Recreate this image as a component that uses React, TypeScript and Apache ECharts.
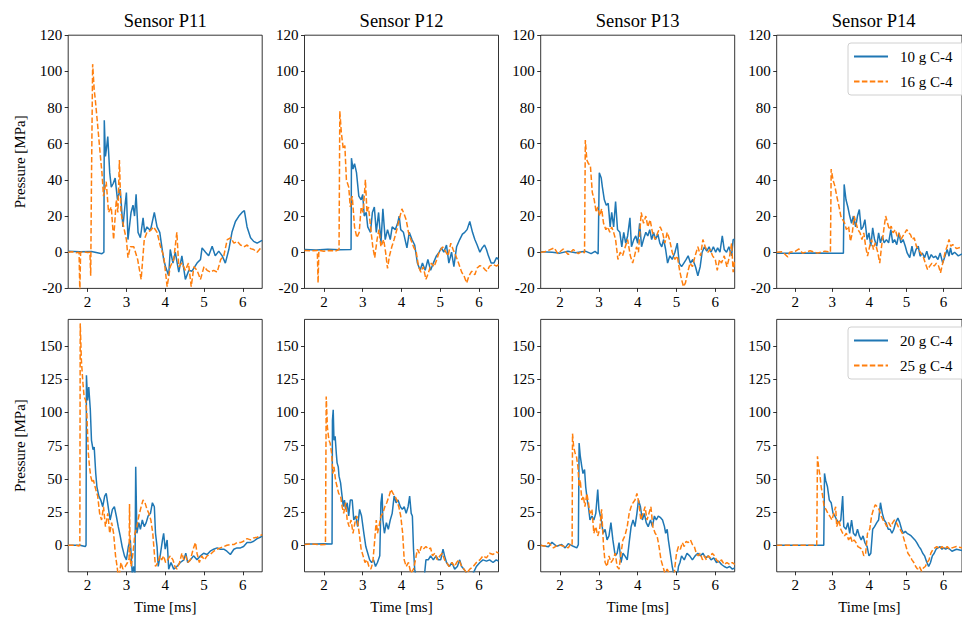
import React, { useEffect, useRef } from "react";
import * as echarts from "echarts";

const FONT = "Liberation Serif";
const BLUE = "#1f77b4";
const ORANGE = "#ff7f0e";

const sensors = ["Sensor P11", "Sensor P12", "Sensor P13", "Sensor P14"];
const topNames = ["10 g C-4", "16 g C-4"];
const bottomNames = ["20 g C-4", "25 g C-4"];
const xTicks = [2, 3, 4, 5, 6];
const topYTicks = [-20, 0, 20, 40, 60, 80, 100, 120];
const bottomYTicks = [0, 25, 50, 75, 100, 125, 150];

// ---- top row: 10 g (solid) and 16 g (dashed) ----
const p11_10 = [[1.5,0.5],[1.8,0.3],[2.1,0.4],[2.37,-0.8],[2.42,0],[2.43,73],[2.46,53],[2.49,58],[2.52,64],[2.57,44],[2.61,36],[2.66,38],[2.71,41],[2.77,29],[2.84,35],[2.91,14],[2.96,25],[3.0,33],[3.04,7],[3.12,22],[3.17,26],[3.21,20],[3.25,32],[3.3,11],[3.36,8],[3.43,19],[3.47,11],[3.53,14],[3.62,12],[3.72,22],[3.79,14],[3.86,11],[3.96,-4],[4.01,-8],[4.09,-13],[4.13,1.5],[4.2,-6],[4.26,0],[4.35,-11],[4.43,-2],[4.52,-15],[4.61,-10],[4.69,-10.5],[4.82,-6],[4.91,-4],[4.95,2.4],[5.04,0],[5.12,-2],[5.21,3.3],[5.29,-2],[5.38,0.6],[5.47,-2],[5.55,-6],[5.64,1.5],[5.72,11],[5.81,17],[5.9,20],[5.98,22],[6.04,23],[6.11,14],[6.2,8],[6.28,6],[6.37,5],[6.45,6],[6.5,6.6]];
const p11_16 = [[1.5,0],[1.6,0.3],[1.7,-0.3],[1.78,0],[1.8,-22],[1.82,0],[1.9,0.2],[2.0,-0.2],[2.06,0],[2.08,-13],[2.1,40],[2.13,104],[2.17,90],[2.2,84],[2.26,70],[2.33,53],[2.37,44],[2.41,31],[2.48,39],[2.54,22],[2.61,25],[2.67,7],[2.74,29],[2.78,22],[2.82,51],[2.86,22],[2.93,14],[3.0,7],[3.04,-3],[3.1,3],[3.19,3],[3.29,-4],[3.38,-15],[3.46,7],[3.53,11],[3.62,12],[3.7,14],[3.79,11],[3.88,3],[3.96,-2],[4.05,-19],[4.13,-8],[4.22,-4],[4.3,11],[4.35,-8],[4.43,-6],[4.52,-10],[4.6,-6],[4.67,-19],[4.74,-8],[4.82,-10],[4.91,-15],[5.0,-8],[5.08,-10],[5.17,-11],[5.25,-10],[5.34,-11],[5.43,-4],[5.51,-2],[5.6,7],[5.69,8],[5.77,5],[5.86,6],[5.94,4],[6.03,3],[6.11,4],[6.2,2],[6.28,1.5],[6.37,0],[6.45,2],[6.5,3]];
const p12_10 = [[1.5,1.5],[1.8,1.3],[2.1,1.6],[2.4,1.4],[2.7,1.5],[2.71,52],[2.75,46],[2.79,49],[2.84,44],[2.9,31],[2.96,29],[3.0,32],[3.04,20],[3.09,22],[3.13,14],[3.2,11],[3.25,22],[3.3,25],[3.35,11],[3.41,22],[3.47,5],[3.52,24],[3.58,7],[3.64,12.5],[3.71,7],[3.76,14],[3.84,12.5],[3.9,16],[3.94,20],[3.98,12.5],[4.05,11],[4.14,2.4],[4.2,11],[4.27,7],[4.34,4],[4.41,-6],[4.48,-10],[4.54,-6],[4.61,-10],[4.68,-4],[4.75,-10],[4.82,-6],[4.9,-2],[4.97,0],[5.03,2.4],[5.09,0],[5.16,4],[5.22,-6],[5.29,0],[5.35,-8],[5.42,3],[5.5,7],[5.57,10],[5.63,11],[5.69,12.5],[5.76,17],[5.83,11],[5.89,7],[5.95,4],[6.02,0],[6.08,2.4],[6.14,4],[6.19,1.5],[6.24,-2],[6.31,-6],[6.38,-6],[6.45,-3],[6.5,-4]];
const p12_16 = [[1.5,1],[1.7,0.8],[1.83,1],[1.85,-17],[1.87,1],[2.0,0.5],[2.15,1],[2.3,0.7],[2.39,1.5],[2.41,78],[2.45,66],[2.5,57],[2.54,59],[2.58,40],[2.64,36],[2.68,25],[2.73,31],[2.79,14],[2.85,8],[2.91,11],[2.96,25],[3.01,22],[3.07,40],[3.11,22],[3.15,25],[3.21,12.5],[3.26,3],[3.31,-3],[3.37,7],[3.42,12.5],[3.47,3],[3.54,7],[3.59,0],[3.64,-9],[3.69,-2],[3.75,3],[3.81,7],[3.88,12.5],[3.94,18],[4.01,24],[4.07,21],[4.12,18],[4.18,11],[4.24,7],[4.31,3],[4.38,0],[4.44,-8],[4.5,-11],[4.56,-8],[4.63,-15],[4.7,-11],[4.77,-6],[4.84,-8],[4.91,-4],[4.97,0],[5.06,3],[5.13,0.6],[5.2,-2],[5.27,5],[5.33,1.5],[5.4,-2],[5.47,-6],[5.55,-11],[5.61,-13],[5.68,-17],[5.74,-13],[5.81,-10.5],[5.89,-12.4],[5.95,-8.7],[6.02,-7.4],[6.09,-8],[6.15,-9.6],[6.2,-10.5],[6.27,-7.7],[6.36,-6.8],[6.45,-7.7],[6.5,-6.8]];
const p13_10 = [[1.5,0.3],[1.8,0],[2.0,-0.5],[2.2,0.5],[2.4,-0.3],[2.65,0.6],[2.8,-0.8],[2.9,0.5],[2.98,-1],[3.01,44],[3.06,41],[3.09,36],[3.14,29],[3.19,26],[3.24,27],[3.29,14],[3.33,22],[3.38,14],[3.43,28],[3.48,12.5],[3.54,11],[3.59,3],[3.64,11],[3.69,5],[3.74,9],[3.8,19],[3.84,3],[3.9,7],[3.95,9],[4.0,5],[4.05,16],[4.1,3],[4.15,7],[4.21,11],[4.26,9],[4.31,12.5],[4.36,7],[4.41,11],[4.46,7],[4.52,10],[4.57,5],[4.62,3],[4.67,7],[4.72,1.5],[4.77,-6],[4.83,-2],[4.89,-4],[4.96,0],[5.02,5],[5.07,-6],[5.13,-8],[5.19,-6],[5.25,-4],[5.3,-2],[5.36,-6],[5.42,-4],[5.49,-8],[5.55,-13],[5.61,-8],[5.66,0],[5.72,3],[5.78,0.6],[5.84,3],[5.89,0],[5.95,3],[6.01,0],[6.06,2.4],[6.12,0],[6.18,9],[6.23,1.5],[6.29,0],[6.35,3],[6.42,-2],[6.46,7],[6.5,7]];
const p13_16 = [[1.5,0],[1.6,0.2],[1.7,1],[1.85,2.4],[1.94,-0.8],[2.08,1.8],[2.21,-1.3],[2.34,1.5],[2.47,-0.8],[2.56,0.5],[2.63,-0.4],[2.65,62],[2.69,51],[2.73,49],[2.78,48],[2.83,33],[2.88,29],[2.93,22],[2.97,25],[3.02,20],[3.07,24],[3.12,16],[3.18,12.5],[3.23,14],[3.28,11],[3.33,14],[3.38,11],[3.43,7],[3.49,-4],[3.55,0],[3.61,-2],[3.68,3],[3.74,7],[3.81,-2],[3.87,-6],[3.92,-2],[3.97,3],[4.02,0],[4.09,22],[4.15,16],[4.21,20],[4.26,14],[4.32,18],[4.38,11],[4.45,7],[4.52,11],[4.58,14],[4.64,11],[4.7,5],[4.76,11],[4.82,7],[4.89,0],[4.96,-4],[5.02,-2],[5.08,-10],[5.13,-15],[5.18,-19],[5.23,-17],[5.29,-11],[5.35,-6],[5.41,-8],[5.48,-2],[5.55,3],[5.62,-2],[5.68,7],[5.74,3],[5.81,0],[5.87,1.5],[5.93,-2],[6.0,-4],[6.05,-10],[6.11,-4],[6.16,-6],[6.23,-2],[6.3,-8],[6.37,-2],[6.42,5],[6.46,-11],[6.5,-4]];
const p14_10 = [[1.5,-0.5],[2.0,-0.5],[2.5,-0.4],[3.0,-0.5],[3.3,-0.5],[3.32,37.5],[3.37,29],[3.42,25],[3.47,20],[3.52,16],[3.57,20],[3.63,14],[3.68,20],[3.73,23.6],[3.78,12.5],[3.83,14],[3.88,18],[3.94,7],[3.99,10.7],[4.04,3.3],[4.09,13.5],[4.14,7],[4.2,3.3],[4.25,10.7],[4.3,5.2],[4.35,8.8],[4.4,5.2],[4.46,7],[4.52,5.2],[4.58,12.5],[4.63,5.2],[4.68,7],[4.74,4.2],[4.8,10.7],[4.85,5.2],[4.91,7],[4.97,3.3],[5.02,-0.4],[5.09,-3],[5.15,3.3],[5.2,-2.2],[5.26,1.5],[5.32,3.3],[5.37,-2.2],[5.43,-0.4],[5.49,-3],[5.55,0.6],[5.61,-4],[5.67,-1.3],[5.73,-3],[5.79,-2.2],[5.85,-4],[5.91,-0.4],[5.98,-6],[6.04,-2.2],[6.1,1.5],[6.15,-2.2],[6.19,2.4],[6.23,-1.3],[6.3,0],[6.4,-2],[6.5,-1]];
const p14_16 = [[1.5,0],[1.65,0.3],[1.8,-2.6],[1.85,0],[2.0,0.5],[2.1,1.8],[2.2,-0.5],[2.4,0.8],[2.6,-0.5],[2.8,0.6],[2.95,0],[2.97,46],[3.02,40],[3.07,36.5],[3.12,31],[3.18,25.4],[3.23,20],[3.28,18],[3.33,16.2],[3.38,12.5],[3.44,14.4],[3.49,6],[3.54,10.7],[3.59,20],[3.64,16.2],[3.69,12.5],[3.75,10.7],[3.8,7],[3.85,10.7],[3.9,3.3],[3.95,-2.2],[4.01,3.3],[4.06,7],[4.11,1.5],[4.16,5.2],[4.23,-0.4],[4.28,-6],[4.33,3.3],[4.39,12.5],[4.44,20],[4.49,16.2],[4.54,12.5],[4.59,14.4],[4.64,10.7],[4.7,12.5],[4.75,8.8],[4.8,10.7],[4.85,7],[4.9,8.8],[4.96,10.7],[5.01,12.5],[5.06,10.7],[5.11,9.8],[5.16,7],[5.21,8],[5.27,3.3],[5.33,1.5],[5.39,-0.4],[5.45,-2.2],[5.51,-6],[5.57,-9.6],[5.63,-7.7],[5.69,-6],[5.75,-7.7],[5.81,-6],[5.87,-7.7],[5.92,-11.4],[5.98,-6],[6.04,-0.4],[6.1,3.3],[6.15,7],[6.2,3.3],[6.25,4.2],[6.35,2],[6.5,3]];

// ---- bottom row: 20 g (solid) and 25 g (dashed) ----
const b11_20 = [[1.5,0],[1.8,0],[1.94,-1],[1.96,0],[1.97,128],[2.0,109],[2.03,119],[2.07,102],[2.1,79],[2.14,72],[2.17,74],[2.21,54],[2.24,44],[2.29,37],[2.34,34],[2.39,29],[2.44,37],[2.48,39],[2.53,29],[2.58,19],[2.64,27],[2.69,29],[2.74,22],[2.79,14],[2.84,7],[2.89,-1],[2.95,-8],[3.0,-11],[3.05,-1],[3.1,4],[3.15,-21],[3.19,-16],[3.22,-23],[3.24,59],[3.27,9],[3.32,17],[3.36,12],[3.41,19],[3.46,14],[3.51,17],[3.56,22],[3.62,24],[3.67,32],[3.72,29],[3.75,9],[3.79,-1],[3.82,-16],[3.87,-8],[3.93,4],[3.96,9],[4.0,-3],[4.05,4],[4.09,-18],[4.15,-13],[4.22,-18],[4.3,-16],[4.39,-13],[4.48,-11],[4.53,-6],[4.58,-13],[4.65,-11],[4.73,-8],[4.82,-11],[4.91,-8],[4.99,-6],[5.08,-7],[5.16,-4.5],[5.25,-3],[5.34,-2],[5.42,-3],[5.51,-3],[5.59,-4.5],[5.68,-7],[5.77,-3],[5.85,-2],[5.94,-2],[6.02,-1],[6.11,2],[6.2,2],[6.28,3],[6.37,5],[6.45,6],[6.5,7]];
const b11_25 = [[1.5,0],[1.7,0],[1.78,-0.5],[1.8,0],[1.81,167],[1.84,139],[1.88,122],[1.91,112],[1.95,109],[1.98,99],[2.02,69],[2.05,59],[2.08,52],[2.12,47],[2.15,49],[2.21,42],[2.26,37],[2.31,24],[2.36,19],[2.41,29],[2.46,14],[2.52,24],[2.57,9],[2.62,17],[2.67,9],[2.72,-8],[2.76,-16],[2.8,-26],[2.86,-13],[2.91,-18],[2.97,-16],[3.03,-13],[3.07,-10],[3.08,31],[3.1,-10],[3.12,-16],[3.17,-6],[3.22,9],[3.27,14],[3.32,22],[3.38,29],[3.43,34],[3.48,32],[3.53,27],[3.58,24],[3.63,19],[3.68,9],[3.72,-6],[3.75,-16],[3.81,-13],[3.86,-8],[3.91,-11],[3.96,-8],[4.01,-13],[4.06,-11],[4.13,-8],[4.2,-11],[4.25,-16],[4.3,-18],[4.37,-13],[4.43,-6],[4.48,-11],[4.53,-8],[4.58,-13],[4.65,-11],[4.72,-3],[4.78,2],[4.82,-6],[4.88,-13],[4.94,-8],[5.01,-11],[5.08,-8],[5.16,-7],[5.25,-4.5],[5.34,-3],[5.42,-2],[5.51,-1],[5.59,0],[5.68,0.5],[5.77,0.5],[5.85,2],[5.94,2],[6.02,3],[6.11,5],[6.2,4],[6.28,5.5],[6.37,6],[6.5,8]];
const b12_20 = [[1.5,1],[1.8,1],[2.0,1.2],[2.21,1],[2.22,94],[2.24,102],[2.26,79],[2.29,82],[2.32,69],[2.34,62],[2.37,59],[2.39,52],[2.43,47],[2.46,39],[2.5,29],[2.53,34],[2.56,27],[2.6,32],[2.64,22],[2.68,34],[2.73,34],[2.77,19],[2.82,22],[2.87,14],[2.92,27],[2.97,22],[3.03,9],[3.08,-1],[3.13,-6],[3.18,-11],[3.23,-13],[3.28,-11],[3.33,-16],[3.38,-13],[3.44,-8],[3.47,32],[3.5,39],[3.52,19],[3.56,9],[3.61,17],[3.66,12],[3.71,19],[3.76,24],[3.81,37],[3.86,32],[3.91,34],[3.97,29],[4.02,27],[4.07,29],[4.12,24],[4.17,29],[4.21,37],[4.25,24],[4.28,22],[4.31,-3],[4.34,-18],[4.39,-26],[4.48,-28],[4.58,-26],[4.63,-11],[4.69,-11],[4.75,-8],[4.82,-11],[4.89,-8],[4.95,-11],[5.01,-11],[5.07,-3],[5.11,-8],[5.16,-13],[5.23,-16],[5.3,-13],[5.37,-18],[5.44,-16],[5.5,-11],[5.55,-16],[5.61,-18],[5.67,-21],[5.76,-23],[5.85,-21],[5.93,-16],[6.02,-13],[6.1,-11],[6.19,-12],[6.27,-11],[6.36,-13],[6.44,-11],[6.5,-12]];
const b12_25 = [[1.5,0.5],[1.7,1],[1.9,0.3],[2.04,0.5],[2.06,112],[2.09,89],[2.13,79],[2.16,77],[2.2,69],[2.23,54],[2.26,59],[2.3,49],[2.34,44],[2.38,39],[2.43,37],[2.47,29],[2.51,24],[2.56,32],[2.6,19],[2.65,14],[2.7,19],[2.75,9],[2.8,17],[2.85,22],[2.91,9],[2.96,-3],[3.01,-8],[3.06,-13],[3.11,-11],[3.16,-16],[3.21,-18],[3.26,-13],[3.31,4],[3.35,19],[3.38,9],[3.42,14],[3.47,22],[3.52,24],[3.57,29],[3.62,32],[3.68,37],[3.73,42],[3.78,39],[3.83,37],[3.88,34],[3.93,29],[3.98,22],[4.03,9],[4.07,-11],[4.12,-16],[4.18,-13],[4.24,-21],[4.31,-18],[4.36,-11],[4.41,-3],[4.46,-6],[4.51,-1],[4.56,-3],[4.63,-1],[4.7,-3],[4.75,-2],[4.8,-8],[4.86,-6],[4.92,-11],[4.99,-8],[5.05,-6],[5.11,-11],[5.16,-13],[5.23,-16],[5.3,-13],[5.37,-16],[5.42,-13],[5.48,-11],[5.55,-16],[5.61,-18],[5.68,-21],[5.76,-18],[5.85,-16],[5.93,-13],[6.02,-11],[6.1,-8],[6.19,-9.5],[6.27,-6],[6.36,-7],[6.44,-5],[6.5,-6]];
const b13_20 = [[1.5,0],[1.53,-0.2],[1.7,-1.2],[1.79,2.2],[1.91,-0.8],[2.04,0.5],[2.13,-2],[2.21,1.2],[2.34,-0.8],[2.43,-2],[2.47,0.5],[2.49,77],[2.52,67],[2.56,59],[2.59,54],[2.63,57],[2.66,44],[2.7,34],[2.73,29],[2.77,19],[2.82,22],[2.87,19],[2.92,24],[2.97,42],[3.0,27],[3.06,19],[3.11,9],[3.16,12],[3.21,4],[3.26,7],[3.31,17],[3.36,4],[3.42,-8],[3.47,-6],[3.52,2],[3.57,-13],[3.62,-6],[3.67,-8],[3.73,-11],[3.78,2],[3.83,14],[3.88,19],[3.93,14],[3.98,24],[4.02,34],[4.07,29],[4.12,19],[4.17,24],[4.22,17],[4.27,14],[4.33,19],[4.38,14],[4.43,22],[4.48,19],[4.53,22],[4.58,21],[4.64,19],[4.69,14],[4.72,9],[4.76,12],[4.79,4],[4.84,-6],[4.89,-16],[4.94,-23],[5.0,-28],[5.05,-16],[5.09,-13],[5.13,-8],[5.2,-11],[5.27,-6],[5.34,-8],[5.41,-11],[5.48,-8],[5.55,-6],[5.62,-8],[5.68,-6],[5.75,-9.5],[5.82,-8],[5.89,-11],[5.96,-9.5],[6.03,-13],[6.09,-12],[6.16,-14.5],[6.23,-16],[6.3,-17],[6.37,-16],[6.44,-18],[6.5,-17]];
const b13_25 = [[1.5,0],[1.61,-0.8],[1.7,2],[1.83,-2],[1.96,0.5],[2.09,-0.8],[2.21,-2],[2.26,0.5],[2.31,0],[2.32,84],[2.35,74],[2.39,69],[2.42,67],[2.46,59],[2.49,44],[2.52,49],[2.56,34],[2.6,37],[2.64,29],[2.69,39],[2.73,32],[2.77,24],[2.82,27],[2.87,9],[2.92,14],[2.97,7],[3.02,12],[3.07,27],[3.12,-1],[3.16,-13],[3.21,-16],[3.26,-8],[3.31,-13],[3.36,-11],[3.42,-6],[3.47,-16],[3.52,-18],[3.57,-6],[3.62,4],[3.67,7],[3.73,14],[3.78,24],[3.83,29],[3.88,32],[3.93,34],[3.98,39],[4.03,32],[4.08,19],[4.14,24],[4.19,29],[4.24,19],[4.29,24],[4.34,29],[4.39,14],[4.45,9],[4.5,7],[4.55,-1],[4.6,-11],[4.65,-16],[4.7,-21],[4.76,-18],[4.81,-21],[4.86,-26],[4.91,-31],[4.96,-16],[5.0,-6],[5.05,-1],[5.1,-3],[5.15,2],[5.2,-1],[5.25,3],[5.3,2],[5.36,4],[5.41,0.5],[5.46,-1],[5.51,-6],[5.56,-8],[5.61,-6],[5.67,-11],[5.72,-8],[5.77,-11],[5.82,-8],[5.87,-9.5],[5.92,-6],[5.98,-8],[6.03,-11],[6.1,-13],[6.16,-11],[6.23,-14.5],[6.3,-13],[6.37,-14.5],[6.44,-13],[6.5,-14.5]];
const b14_20 = [[1.5,0],[2.0,0],[2.5,0],[2.77,0],[2.79,54],[2.82,49],[2.87,44],[2.92,34],[2.97,32],[3.02,24],[3.07,22],[3.12,19],[3.18,17],[3.23,19],[3.28,37],[3.31,14],[3.37,12],[3.42,17],[3.47,9],[3.52,19],[3.57,9],[3.63,7],[3.68,12],[3.73,7],[3.78,4],[3.83,7],[3.88,2],[3.94,-1],[3.99,-8],[4.04,-6],[4.09,12],[4.14,14],[4.2,17],[4.25,19],[4.3,32],[4.35,24],[4.4,19],[4.45,17],[4.51,12],[4.56,12],[4.61,9],[4.66,12],[4.71,17],[4.77,20.5],[4.82,17],[4.87,12],[4.92,9],[4.97,10.5],[5.02,9],[5.08,8],[5.13,7],[5.18,5.5],[5.23,4],[5.28,2],[5.34,-1],[5.39,-3],[5.44,-6],[5.49,-8],[5.54,-12],[5.6,-16],[5.65,-13],[5.7,-8],[5.75,-6],[5.8,-3],[5.85,-2],[5.91,-1],[5.96,-3],[6.01,-2],[6.06,-3],[6.11,-2],[6.17,-3],[6.23,-4.5],[6.35,-3],[6.5,-4]];
const b14_25 = [[1.5,0],[2.0,0],[2.4,0],[2.58,0],[2.6,67],[2.63,59],[2.67,52],[2.7,44],[2.74,37],[2.78,29],[2.83,27],[2.88,24],[2.93,22],[2.99,19],[3.04,24],[3.09,29],[3.12,14],[3.18,19],[3.23,12],[3.28,9],[3.33,7],[3.38,9],[3.44,4],[3.49,7],[3.54,2],[3.59,4],[3.64,2],[3.69,-1],[3.75,-2],[3.8,-3],[3.85,-8],[3.9,-6],[3.95,9],[4.01,12],[4.06,22],[4.11,27],[4.16,30.5],[4.21,29],[4.26,27],[4.32,22],[4.37,19],[4.42,17],[4.47,14],[4.52,17],[4.58,14],[4.63,17],[4.68,19],[4.73,17],[4.78,14],[4.83,12],[4.89,9],[4.94,4],[4.99,-1],[5.04,-6],[5.09,-8],[5.15,-11],[5.2,-13],[5.25,-16],[5.3,-18],[5.35,-16],[5.41,-19.5],[5.46,-17],[5.51,-16],[5.56,-13],[5.61,-11],[5.66,-6],[5.72,-3],[5.77,-2],[5.82,-1],[5.89,-3],[5.96,-1],[6.03,-3],[6.1,-1],[6.17,-3],[6.23,-2],[6.35,-1],[6.5,-2]];

const topSeries = [[p11_10, p11_16], [p12_10, p12_16], [p13_10, p13_16], [p14_10, p14_16]];
const bottomSeries = [[b11_20, b11_25], [b12_20, b12_25], [b13_20, b13_25], [b14_20, b14_25]];

const LEFTS = [68.2, 304.5, 540.7, 776.7];
const W = 194;
const ROWS = [{ top: 35.2, height: 253.2 }, { top: 319.4, height: 252.4 }];

export default function App() {
  const ref = useRef<HTMLDivElement>(null);
  useEffect(() => {
    if (!ref.current) return;
    const chart = echarts.init(ref.current, undefined, { renderer: "svg" });
    const grid: any[] = [];
    const xAxis: any[] = [];
    const yAxis: any[] = [];
    const series: any[] = [];
    const tickStyle = { show: true, inside: false, length: 3.5, lineStyle: { color: "#000", width: 0.8 } };
    const labelStyle = { color: "#000", fontFamily: FONT, fontSize: 15, margin: 6 };
    for (let r = 0; r < 2; r++) {
      for (let c = 0; c < 4; c++) {
        const idx = r * 4 + c;
        grid.push({
          left: LEFTS[c], top: ROWS[r].top, width: W, height: ROWS[r].height,
          show: true, borderColor: "#000", borderWidth: 0.8, backgroundColor: "transparent",
          containLabel: false,
        });
        xAxis.push({
          type: "value", gridIndex: idx, min: 1.5, max: 6.5, position: "bottom",
          axisLine: { show: false, onZero: false },
          axisTick: { ...tickStyle, customValues: xTicks },
          axisLabel: { ...labelStyle, customValues: xTicks },
          splitLine: { show: false },
          name: r === 1 ? "Time [ms]" : "",
          nameLocation: "middle", nameGap: 28,
          nameTextStyle: { color: "#000", fontFamily: FONT, fontSize: 15 },
        });
        const yt = r === 0 ? topYTicks : bottomYTicks;
        yAxis.push({
          type: "value", gridIndex: idx, position: "left",
          min: -20, max: r === 0 ? 120 : 170,
          axisLine: { show: false, onZero: false },
          axisTick: { ...tickStyle, customValues: yt },
          axisLabel: { ...labelStyle, customValues: yt },
          splitLine: { show: false },
          name: c === 0 ? "Pressure [MPa]" : "",
          nameLocation: "middle", nameGap: 41, nameRotate: 90,
          nameTextStyle: { color: "#000", fontFamily: FONT, fontSize: 15 },
        });
        const pair = r === 0 ? topSeries[c] : bottomSeries[c];
        const names = r === 0 ? topNames : bottomNames;
        series.push({
          type: "line", name: names[0], xAxisIndex: idx, yAxisIndex: idx,
          data: pair[0], showSymbol: false, symbol: "none", clip: true,
          lineStyle: { color: BLUE, width: 1.5, type: "solid" }, itemStyle: { color: BLUE },
          z: 2,
        });
        series.push({
          type: "line", name: names[1], xAxisIndex: idx, yAxisIndex: idx,
          data: pair[1], showSymbol: false, symbol: "none", clip: true,
          lineStyle: { color: ORANGE, width: 1.5, type: [5.5, 2.4] }, itemStyle: { color: ORANGE },
          z: 3,
        });
      }
    }
    const legendBase = {
      orient: "vertical", left: 848, itemWidth: 34, itemHeight: 14, itemGap: 10,
      padding: [6, 14, 6, 5], borderColor: "#d0d0d0", borderWidth: 1, borderRadius: 3,
      backgroundColor: "rgba(255,255,255,0.85)", selectedMode: false,
      itemStyle: { opacity: 0 },
      textStyle: { color: "#000", fontFamily: FONT, fontSize: 15, padding: [0, 0, 0, 7] },
    };
    const graphic = sensors.map((s, c) => ({
      type: "text", x: LEFTS[c] + W / 2, y: 11,
      style: { text: s, fill: "#000", fontFamily: FONT, fontSize: 18.5, textAlign: "center", textVerticalAlign: "top" },
    }));
    chart.setOption({
      animation: false,
      backgroundColor: "#fff",
      textStyle: { fontFamily: FONT },
      grid, xAxis, yAxis, series, graphic,
      legend: [
        { ...legendBase, top: 43, data: topNames },
        { ...legendBase, top: 327, data: bottomNames },
      ],
    });
    return () => chart.dispose();
  }, []);
  return <div ref={ref} style={{ position: "fixed", left: 0, top: 0, width: 962, height: 617 }} />;
}
